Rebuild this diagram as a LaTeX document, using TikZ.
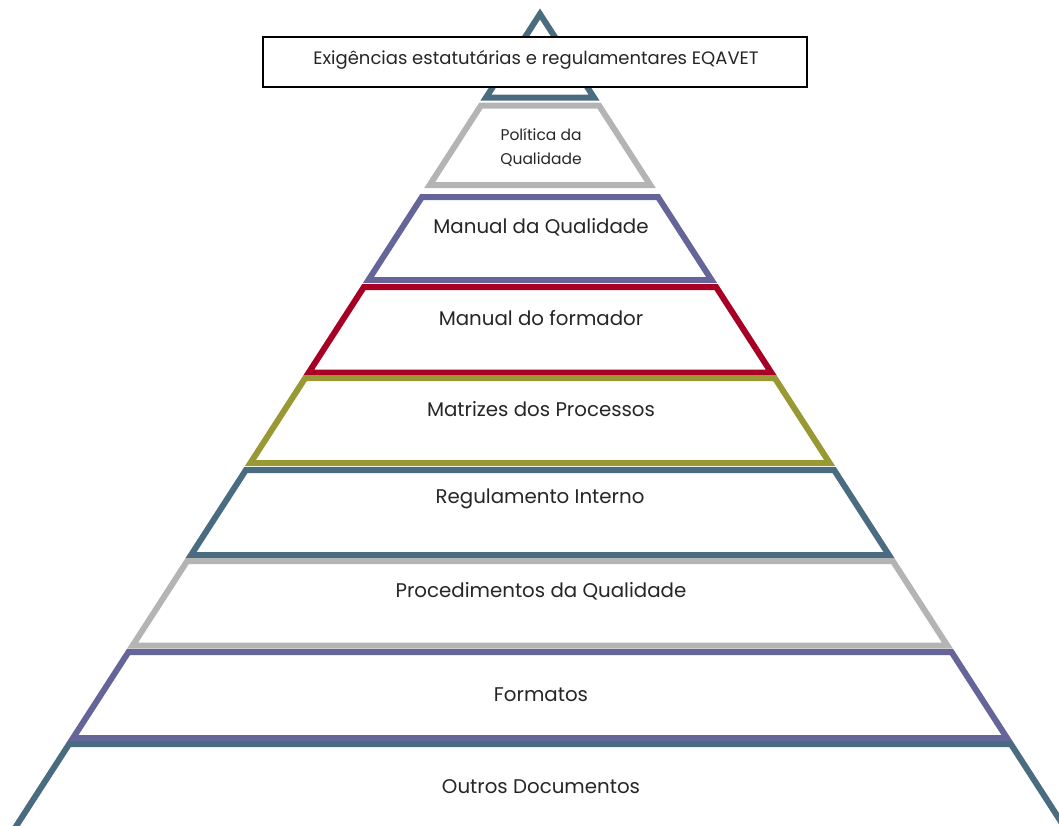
\documentclass[tikz,border=0pt]{standalone}
\usepackage{fontspec}
\setmainfont{Poppins}
\definecolor{pyrteal}{RGB}{74,108,128}
\definecolor{pyrgray}{RGB}{180,180,180}
\definecolor{pyrpurple}{RGB}{102,101,153}
\definecolor{pyrred}{RGB}{168,0,36}
\definecolor{pyrolive}{RGB}{153,153,51}
\begin{document}
\begin{tikzpicture}[x=1pt,y=-1pt]
		\tikzstyle{tier}=[line width=6pt,fill=white]
		\tikzstyle{lbl}=[font=\fontsize{19.8}{24}\selectfont,text=black!85,inner sep=0pt]
		\useasboundingbox (0,0) rectangle (1059,825);
		\clip (0,0) rectangle (1059,825);
		% top of the pyramid
		\draw[tier,draw=pyrteal] (540,14) -- (594,97.5) -- (486,97.5) -- cycle;
		% tiers: top/bottom/colour
		\foreach \t/\b/\c in {105.5/185/pyrgray, 197/280/pyrpurple, 287/372.5/pyrred,
			378/463/pyrolive, 470/555/pyrteal, 561/645.5/pyrgray, 652/738/pyrpurple}{
			\pgfmathsetmacro\wt{0.645*(\t-14)}
			\pgfmathsetmacro\wb{0.645*(\b-14)}
			\draw[tier,draw=\c] (540-\wt,\t) -- (540+\wt,\t) -- (540+\wb,\b) -- (540-\wb,\b) -- cycle;
		}
		% last tier runs off the page
		\pgfmathsetmacro\wt{0.645*(744-14)}
		\pgfmathsetmacro\wb{0.645*(850-14)}
		\draw[tier,draw=pyrteal] (540-\wb,850) -- (540-\wt,744) -- (540+\wt,744) -- (540+\wb,850);
		
		\node[draw=black,line width=2pt,fill=white,minimum width=544pt,minimum height=50pt,inner sep=0pt] (box) at (535,62) {};
		\node[lbl,font=\fontsize{18}{22}\selectfont] (eqavet) at (536,60) {Exigências estatutárias e regulamentares EQAVET};
		\node[lbl,font=\fontsize{15.5}{24}\selectfont,align=center] (politica) at (541,147) {Política da\\Qualidade};
		\node[lbl] (manualq) at (541,227) {Manual da Qualidade};
		\node[lbl] (manualf) at (541,318) {Manual do formador};
		\node[lbl] (matrizes) at (541,409) {Matrizes dos Processos};
		\node[lbl] (regulamento) at (540,499) {Regulamento Interno};
		\node[lbl] (procedimentos) at (541,591) {Procedimentos da Qualidade};
		\node[lbl] (formatos) at (541,695) {Formatos};
		\node[lbl] (outros) at (541,787) {Outros Documentos};
\end{tikzpicture}
\end{document}
